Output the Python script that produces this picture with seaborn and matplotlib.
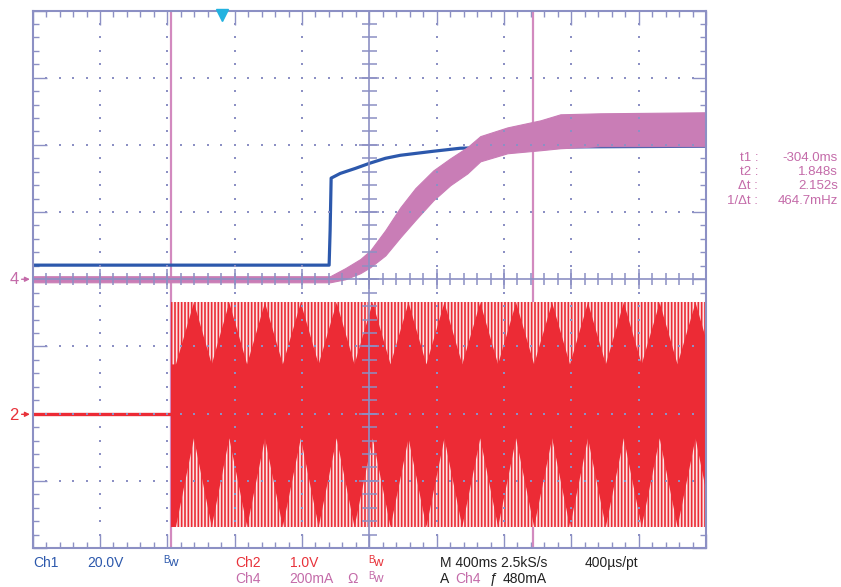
import numpy as np
import pandas as pd
import matplotlib
matplotlib.use("Agg")
import matplotlib.pyplot as plt
import seaborn as sns

# ---------------- data ----------------
# Ch1 (blue), volts, 20 V/div
ch1_t = [-1.125, 0.636, 0.642, 0.648, 0.702, 0.792, 0.875, 0.970, 1.059, 1.255, 1.415, 1.653, 2.875]
ch1_v = [4.2, 4.2, 14.6, 30.1, 31.5, 33.0, 34.5, 36.0, 36.9, 38.1, 39.0, 39.3, 39.6]

# Ch4 (pink), mA, 200 mA/div : band upper / lower edge
ch4_t = [-1.125, 0.642, 0.732, 0.821, 0.881, 0.970, 1.059, 1.148, 1.255, 1.356, 1.457, 1.534, 1.695, 1.891, 2.010, 2.248, 2.875]
ch4_hi = [9, 9, 33, 60, 86, 146, 214, 271, 324, 360, 393, 426, 452, 473, 491, 494, 497]
ch4_lo = [-9, -9, 0, 18, 36, 71, 125, 176, 235, 280, 315, 351, 375, 384, 390, 396, 396]

# Ch2 (red), volts, 1 V/div
ch2_idle_t = [-1.125, -0.304]
ch2_idle_v = [0.0, 0.0]
ch2_start = -0.304
ch2_peak = [1.67, -1.67]                  # top / bottom of the band
ch2_top_phase_t = [-0.170, 0.040, 0.252, 0.465, 0.678, 0.892, 1.105, 1.318,
                   1.531, 1.744, 1.958, 2.171, 2.384, 2.597, 2.810]
ch2_bot_phase_t = [-0.277, -0.064, 0.146, 0.358, 0.571, 0.784, 0.998, 1.211,
                   1.424, 1.637, 1.851, 2.064, 2.277, 2.490, 2.703, 2.916]
ch2_upper_deep = 0.75                     # lowest reach of the solid part's top edge
ch2_lower_high = -0.35                    # highest reach of the solid part's bottom edge

cursor_t = [-0.304, 1.848]
trigger_t = 0.0

# channel scales / ground positions (divisions)
CH1_SCALE, CH1_GND = 20.0, 0.0
CH4_SCALE, CH4_GND = 200.0, 0.0
CH2_SCALE, CH2_GND = 1.0, -2.01

readout_labels = ["t1 :", "t2 :", "\u0394t :", "1/\u0394t :"]
readout_values = ["-304.0ms", "1.848s", "2.152s", "464.7mHz"]

# ---------------- styling ----------------
sns.set_style("white")
plt.rcParams["font.family"] = ["Liberation Sans Narrow", "Liberation Sans", "DejaVu Sans"]
plt.rcParams["hatch.linewidth"] = 1.2

FRAME = "#8C90C4"
BLUE = "#2C58AC"
PINK = "#C97DB6"
PINK_TXT = "#C46BA9"
RED = "#EC2B35"
RED_TXT = "#E8323A"
CYAN = "#22B2E0"

W, H = 841, 587
fig = plt.figure(figsize=(W / 100, H / 100), dpi=100)
L_, R_, T_, B_ = 32.7, 706.0, 10.5, 548.0
ax = fig.add_axes([L_ / W, 1 - B_ / H, (R_ - L_) / W, (B_ - T_) / H])

XMIN, XMAX = -1.125, 2.875
ax.set_xlim(XMIN, XMAX)
ax.set_ylim(-4, 4)

xmaj = XMIN + 0.4 * np.arange(11)
xmin_ = XMIN + 0.08 * np.arange(51)
ymaj = np.arange(-4, 5)
ymin_ = -4 + 0.2 * np.arange(41)
ax.set_xticks(xmaj)
ax.set_xticks(xmin_, minor=True)
ax.set_yticks(ymaj)
ax.set_yticks(ymin_, minor=True)
ax.tick_params(which="major", direction="in", length=10, width=1, color=FRAME,
               top=True, right=True, bottom=True, left=True,
               labelbottom=False, labelleft=False)
ax.tick_params(which="minor", direction="in", length=4.3, width=1, color=FRAME,
               top=True, right=True, bottom=True, left=True)
for s in ax.spines.values():
    s.set_color(FRAME)
    s.set_linewidth(1.5)
    s.set_zorder(8)

# dotted grid
for xv in xmaj[1:-1]:
    if abs(xv - 0.875) < 1e-6:
        continue
    ax.scatter(np.full(len(ymin_), xv), ymin_, s=1.8, marker="s", color=FRAME,
               linewidths=0, zorder=7)
for yv in ymaj[1:-1]:
    if yv == 0:
        continue
    ax.scatter(xmin_, np.full(len(xmin_), yv), s=1.8, marker="s", color=FRAME,
               linewidths=0, zorder=7)

# centre cross with ticks
ax.axvline(0.875, color=FRAME, lw=1.2, zorder=7)
ax.axhline(0, color=FRAME, lw=1.2, zorder=7)
ax.plot(np.full(len(ymin_), 0.875), ymin_, ls="none", marker="_", ms=10.8, mew=1.1, color=FRAME, zorder=7)
ax.plot(np.full(len(ymaj), 0.875), ymaj, ls="none", marker="_", ms=14.5, mew=1.1, color=FRAME, zorder=7)
ax.plot(xmin_, np.zeros(len(xmin_)), ls="none", marker="|", ms=8.6, mew=1.1, color=FRAME, zorder=7)
ax.plot(xmaj, np.zeros(len(xmaj)), ls="none", marker="|", ms=15, mew=1.1, color=FRAME, zorder=7)

# cursors
for ct in cursor_t:
    ax.axvline(ct, color="#D28ABF", lw=1.6, zorder=1.5)

# ---- Ch2 red ----
ax.plot(ch2_idle_t, [v / CH2_SCALE + CH2_GND for v in ch2_idle_v], color=RED, lw=2.4, zorder=2)
top_div = ch2_peak[0] / CH2_SCALE + CH2_GND
bot_div = ch2_peak[1] / CH2_SCALE + CH2_GND
ax.fill_between([ch2_start, XMAX], [top_div, top_div], [bot_div, bot_div],
                facecolor="#FCE6E6", edgecolor=RED, hatch="|||||", linewidth=0, zorder=2)
events = sorted([(t, ch2_peak[0], ch2_lower_high) for t in ch2_top_phase_t] +
                [(t, ch2_upper_deep, ch2_peak[1]) for t in ch2_bot_phase_t])
ev = pd.DataFrame(events, columns=["t", "up", "lo"])
ev = pd.concat([pd.DataFrame([[ch2_start, ev.up.iloc[0], ev.lo.iloc[0]]], columns=ev.columns), ev])
ax.fill_between(ev.t, ev.up / CH2_SCALE + CH2_GND, ev.lo / CH2_SCALE + CH2_GND,
                color=RED, linewidth=0, zorder=2.2)

# ---- Ch1 blue ----
df1 = pd.DataFrame({"t": ch1_t, "div": [v / CH1_SCALE + CH1_GND for v in ch1_v]})
sns.lineplot(data=df1, x="t", y="div", ax=ax, color=BLUE, lw=2.3, sort=False,
             estimator=None, zorder=3)

# ---- Ch4 pink ----
ax.fill_between(ch4_t, [v / CH4_SCALE + CH4_GND for v in ch4_hi],
                [v / CH4_SCALE + CH4_GND for v in ch4_lo], color=PINK, linewidth=0.8,
                edgecolor=PINK, zorder=4)

ax.set_xlabel("")
ax.set_ylabel("")

# trigger marker
ax.plot([trigger_t], [4 - 0.06], marker="v", ms=8, color=CYAN, clip_on=False, zorder=9)

def fx(px):
    return px / W
def fy(py):
    return 1 - py / H

# ground markers
fig.text(fx(14), fy(280), "4", color=PINK_TXT, fontsize=12, ha="center", va="center")
fig.text(fx(14), fy(415), "2", color=RED_TXT, fontsize=12, ha="center", va="center")
for gy, col in [(CH4_GND, PINK_TXT), (CH2_GND, RED_TXT)]:
    ax.annotate("", xy=(XMIN, gy), xytext=(-10, 0), textcoords="offset points",
                arrowprops=dict(arrowstyle="-|>", color=col, lw=1, mutation_scale=7),
                annotation_clip=False)

# cursor readout
for i, (lab, val) in enumerate(zip(readout_labels, readout_values)):
    yy = 158 + 14.2 * i
    fig.text(fx(758), fy(yy), lab, color=PINK_TXT, fontsize=9.5, ha="right", va="center")
    fig.text(fx(838), fy(yy), val, color=PINK_TXT, fontsize=9.5, ha="right", va="center")

# bottom status text
def bw(x, y, col):
    fig.text(fx(x), fy(y - 3), "B", color=col, fontsize=7, ha="left", va="center")
    fig.text(fx(x + 5.5), fy(y), "w", color=col, fontsize=9.5, ha="left", va="center")

FS = 10
r1, r2 = 563, 579
fig.text(fx(33), fy(r1), "Ch1", color=BLUE, fontsize=FS, va="center")
fig.text(fx(87), fy(r1), "20.0V", color=BLUE, fontsize=FS, va="center")
bw(163, r1, BLUE)
fig.text(fx(235), fy(r1), "Ch2", color=RED_TXT, fontsize=FS, va="center")
fig.text(fx(290), fy(r1), "1.0V", color=RED_TXT, fontsize=FS, va="center")
bw(368, r1, RED_TXT)
fig.text(fx(440), fy(r1), "M 400ms 2.5kS/s", color="#222222", fontsize=FS, va="center")
fig.text(fx(585), fy(r1), "400\u00b5s/pt", color="#222222", fontsize=FS, va="center")

fig.text(fx(235), fy(r2), "Ch4", color=PINK_TXT, fontsize=FS, va="center")
fig.text(fx(289), fy(r2), "200mA", color=PINK_TXT, fontsize=FS, va="center")
fig.text(fx(347), fy(r2), "\u03a9", color=PINK_TXT, fontsize=FS, va="center")
bw(368, r2, PINK_TXT)
fig.text(fx(440), fy(r2), "A", color="#222222", fontsize=FS, va="center")
fig.text(fx(455), fy(r2), "Ch4", color=PINK_TXT, fontsize=FS, va="center")
fig.text(fx(490), fy(r2), "\u0192", color="#222222", fontsize=FS, va="center")
fig.text(fx(503), fy(r2), "480mA", color="#222222", fontsize=FS, va="center")

fig.savefig("out.png", dpi=100)
